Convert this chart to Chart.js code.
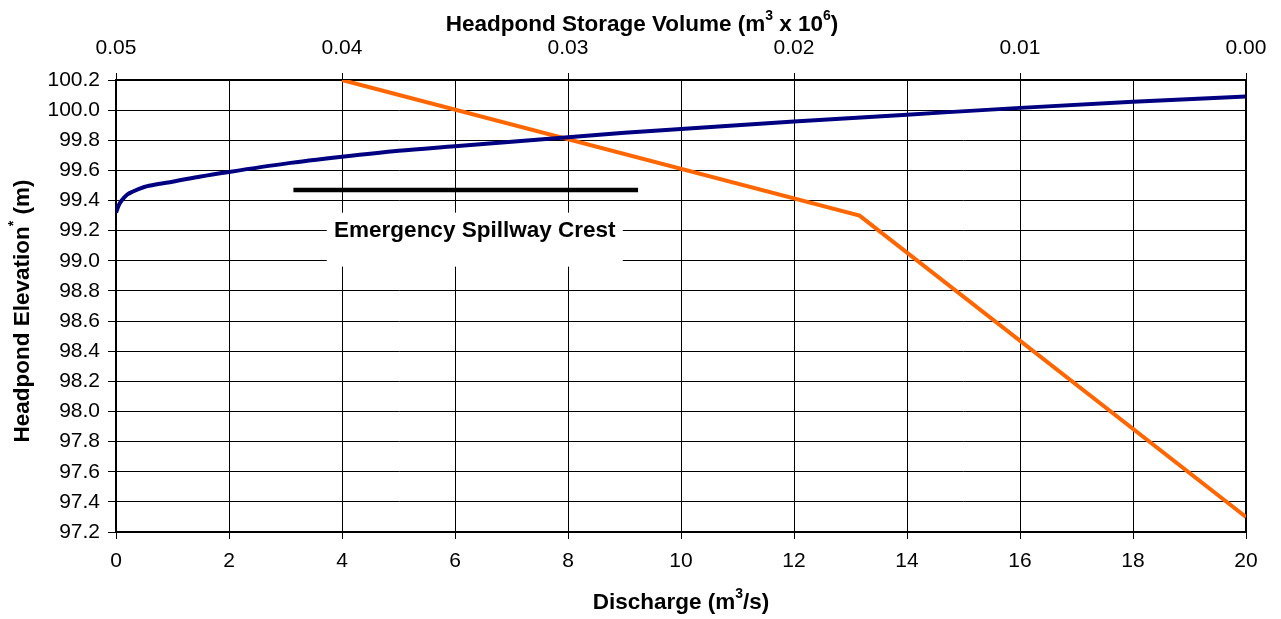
<!DOCTYPE html>
<html>
<head>
<meta charset="utf-8">
<script src="https://cdn.jsdelivr.net/npm/chart.js@4.4.1/dist/chart.umd.min.js"></script>
<style>
  html, body { margin: 0; padding: 0; background: #fff; }
  #wrap { width: 1281px; height: 619px; }
</style>
</head>
<body>
<div id="wrap"><canvas id="rating"></canvas></div>
<script>
// Headpond rating curve (discharge) and storage curve, both against elevation
const dischargeQ = [0, 0.05, 0.1, 0.2, 0.3, 0.5, 0.75, 1, 1.5, 2, 3, 4, 5, 6, 7, 8, 9, 10, 12, 14, 16, 18, 20];
const dischargeElev = [99.32, 99.37, 99.40, 99.44, 99.46, 99.49, 99.51, 99.525, 99.56, 99.59, 99.645, 99.69, 99.73, 99.76, 99.79, 99.82, 99.85, 99.875, 99.925, 99.97, 100.015, 100.055, 100.09];

const storageVol = [0.040, 0.0171, 0.000];
const storageElev = [100.2, 99.3, 97.3];

// spillway crest marker and its label
const crestQ = [3.14, 9.24];
const crestElev = 99.47;
const crestLabel = 'Emergency Spillway Crest';
const crestLabelAt = { x: 6.35, y: 99.2 };

const dischargeTicks = { min: 0, max: 20, step: 2 };
const volumeTicks = { min: 0, max: 0.05, step: 0.01 };
const elevTicks = { min: 97.2, max: 100.2, step: 0.2 };

const FONT = 'Arial, "Liberation Sans", sans-serif';
const TITLE_SIZE = 22.5;

function pts(xs, ys) {
    return xs.map((x, i) => ({ x: x, y: Array.isArray(ys) ? ys[i] : ys }));
}

// text with superscript pieces, centred on (cx, cy)
function drawRich(ctx, parts, cx, cy, size) {
    const big = 'bold ' + size + 'px ' + FONT;
    const small = 'bold ' + Math.round(size * 0.6) + 'px ' + FONT;
    let total = 0;
    parts.forEach(p => {
        ctx.font = p.sup ? small : big;
        total += ctx.measureText(p.t).width;
    });
    let x = cx - total / 2;
    ctx.textBaseline = 'middle';
    ctx.textAlign = 'left';
    parts.forEach(p => {
        ctx.font = p.sup ? small : big;
        ctx.fillText(p.t, x, p.sup ? cy - size * 0.38 : cy);
        x += ctx.measureText(p.t).width;
    });
}

const crestBox = {
    id: 'crestBox',
    beforeDatasetsDraw(chart) {
        const { ctx, chartArea: a, scales } = chart;
        const cx = scales.x.getPixelForValue(crestLabelAt.x);
        const cy = scales.y.getPixelForValue(crestLabelAt.y);
        ctx.save();
        ctx.fillStyle = '#fff';
        ctx.fillRect(cx - 148, cy - 18, 296, 54);
        ctx.fillStyle = '#000';
        ctx.font = 'bold ' + TITLE_SIZE + 'px ' + FONT;
        ctx.textAlign = 'center';
        ctx.textBaseline = 'middle';
        ctx.fillText(crestLabel, cx, cy);
        // plot frame
        ctx.strokeStyle = '#000';
        ctx.lineWidth = 2;
        ctx.strokeRect(a.left, a.top, a.right - a.left, a.bottom - a.top);
        ctx.restore();
    }
};

const axisTitles = {
    id: 'axisTitles',
    afterDraw(chart) {
        const { ctx, chartArea: a } = chart;
        ctx.save();
        ctx.fillStyle = '#000';
        drawRich(ctx, [{ t: 'Discharge (m' }, { t: '3', sup: true }, { t: '/s)' }], (a.left + a.right) / 2, 603, TITLE_SIZE);
        drawRich(ctx, [{ t: 'Headpond Storage Volume (m' }, { t: '3', sup: true }, { t: ' x 10' }, { t: '6', sup: true }, { t: ')' }], 642, 25, TITLE_SIZE);
        ctx.translate(23, (a.top + a.bottom) / 2 + 5);
        ctx.rotate(-Math.PI / 2);
        drawRich(ctx, [{ t: 'Headpond Elevation' }, { t: '*', sup: true }, { t: ' (m)' }], 0, 0, TITLE_SIZE);
        ctx.restore();
    }
};

const tickFont = { family: FONT, size: 21 };

new Chart(document.getElementById('rating'), {
    type: 'scatter',
    data: {
        datasets: [
            {
                label: 'Discharge',
                data: pts(dischargeQ, dischargeElev),
                xAxisID: 'x',
                showLine: true,
                borderColor: '#000080',
                borderWidth: 4,
                pointRadius: 0,
                cubicInterpolationMode: 'monotone',
                order: 1
            },
            {
                label: 'Storage',
                data: pts(storageVol, storageElev),
                xAxisID: 'x2',
                showLine: true,
                borderColor: '#FF6600',
                borderWidth: 4,
                pointRadius: 0,
                order: 2
            },
            {
                label: 'Crest',
                data: pts(crestQ, crestElev),
                xAxisID: 'x',
                showLine: true,
                borderColor: '#000',
                borderWidth: 4.5,
                borderCapStyle: 'butt',
                pointRadius: 0,
                order: 3
            }
        ]
    },
    options: {
        responsive: true,
        maintainAspectRatio: false,
        animation: false,
        layout: { padding: { left: 0, right: 35, top: 0, bottom: 0 } },
        plugins: { legend: { display: false }, tooltip: { enabled: false } },
        scales: {
            x: {
                type: 'linear',
                position: 'bottom',
                min: dischargeTicks.min,
                max: dischargeTicks.max,
                ticks: { stepSize: dischargeTicks.step, color: '#000', font: tickFont, padding: 10, maxRotation: 0 },
                grid: { color: '#000', lineWidth: 1, tickLength: 7 },
                border: { color: '#000', width: 2 },
                afterFit(s) { s.height = 87; }
            },
            x2: {
                type: 'linear',
                position: 'top',
                reverse: true,
                min: volumeTicks.min,
                max: volumeTicks.max,
                ticks: { stepSize: volumeTicks.step, color: '#000', font: tickFont, padding: 12, maxRotation: 0,
                         callback: v => v.toFixed(2) },
                grid: { drawOnChartArea: false, color: '#000', tickLength: 7 },
                border: { color: '#000', width: 2 },
                afterFit(s) { s.height = 80; }
            },
            y: {
                min: elevTicks.min,
                max: elevTicks.max,
                ticks: { stepSize: elevTicks.step, color: '#000', font: tickFont, padding: 8,
                         callback: v => v.toFixed(1) },
                grid: { color: '#000', lineWidth: 1, tickLength: 8 },
                border: { color: '#000', width: 2 },
                afterFit(s) { s.width = 116; }
            }
        }
    },
    plugins: [crestBox, axisTitles]
});
</script>
</body>
</html>
